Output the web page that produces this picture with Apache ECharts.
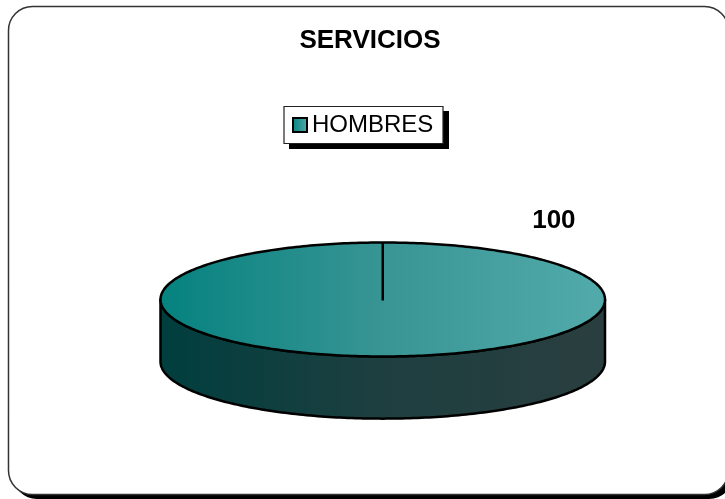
<!DOCTYPE html>
<html>
<head>
<meta charset="utf-8">
<style>
html, body { margin: 0; padding: 0; background: #fff; }
#main { width: 725px; height: 499px; }
</style>
<script src="https://cdn.jsdelivr.net/npm/echarts@6/dist/echarts.min.js"></script>
</head>
<body>
<div id="main"></div>
<script>
var titleText = 'SERVICIOS';
var categories = ['HOMBRES'];
var values = [100];

var font = '"Liberation Sans", Arial, sans-serif';
var depth = 1.09; // pie wall height, in units of the vertical radius

var topFill = {
    type: 'linear', x: 0, y: 0, x2: 1, y2: 0,
    colorStops: [
        { offset: 0, color: '#05827F' },
        { offset: 0.5, color: '#389594' },
        { offset: 1, color: '#52ABAA' }
    ]
};
var sideFill = {
    type: 'linear', x: 0, y: 0, x2: 1, y2: 0,
    colorStops: [
        { offset: 0, color: '#003E3E' },
        { offset: 0.5, color: '#1E3F40' },
        { offset: 1, color: '#2A3E3F' }
    ]
};

function renderPie(params, api) {
    var total = values.reduce(function (a, b) { return a + b; }, 0);
    var sweep = api.value(1) / total * Math.PI * 2;
    var c = api.coord([0, 0]);
    var edge = api.coord([1, 1]);
    var rx = edge[0] - c[0];
    var ry = c[1] - edge[1];
    var wall = ry * depth;
    var i, a;

    var topPts = [];
    for (i = 0; i <= 360; i++) {
        a = sweep * i / 360;
        topPts.push([c[0] + rx * Math.sin(a), c[1] - ry * Math.cos(a)]);
    }
    var sidePts = [];
    for (i = 0; i <= 180; i++) {
        a = Math.PI * i / 180;
        sidePts.push([c[0] + rx * Math.cos(a), c[1] + ry * Math.sin(a)]);
    }
    for (i = 180; i >= 0; i--) {
        a = Math.PI * i / 180;
        sidePts.push([c[0] + rx * Math.cos(a), c[1] + wall + ry * Math.sin(a)]);
    }
    var stroke = { stroke: '#000', lineWidth: 2.5, lineJoin: 'round' };

    return {
        type: 'group',
        children: [
            { type: 'polygon', shape: { points: sidePts }, style: Object.assign({ fill: sideFill }, stroke) },
            { type: 'polygon', shape: { points: topPts }, style: Object.assign({ fill: topFill }, stroke) },
            { type: 'line', shape: { x1: c[0], y1: c[1] - ry, x2: c[0], y2: c[1] + 1 }, style: stroke },
            {
                type: 'text',
                x: c[0] + rx * 0.77,
                y: c[1] - ry * 1.38,
                style: {
                    text: String(api.value(1)),
                    font: 'bold 26px ' + font,
                    fill: '#000',
                    align: 'center',
                    verticalAlign: 'middle'
                }
            }
        ]
    };
}

var chart = echarts.init(document.getElementById('main'), null, { renderer: 'canvas' });
chart.setOption({
    animation: false,
    backgroundColor: '#fff',
    title: {
        text: titleText,
        left: 370,
        top: 28,
        textAlign: 'center',
        padding: 0,
        textStyle: { fontFamily: font, fontSize: 26, fontWeight: 'bold', color: '#000' }
    },
    legend: {
        data: [{
            name: categories[0],
            icon: 'rect',
            itemStyle: {
                color: { type: 'linear', x: 0, y: 0, x2: 1, y2: 0, colorStops: [{ offset: 0, color: '#05827F' }, { offset: 1, color: '#52ABAA' }] },
                borderColor: '#000',
                borderWidth: 2
            }
        }],
        left: 292,
        top: 113,
        itemWidth: 14,
        itemHeight: 14,
        itemGap: 0,
        padding: 0,
        selectedMode: false,
        textStyle: { fontFamily: font, fontSize: 24, color: '#000' }
    },
    graphic: [
        // chart frame and its hard shadow
        { type: 'rect', z: -10, silent: true, shape: { x: 13, y: 11, width: 720, height: 488, r: 24 }, style: { fill: '#000' } },
        { type: 'rect', z: -9, silent: true, shape: { x: 8.5, y: 6.5, width: 720, height: 488, r: 24 }, style: { fill: '#fff', stroke: '#333', lineWidth: 1.5 } },
        // legend box and its hard shadow
        { type: 'rect', z: -8, silent: true, shape: { x: 289, y: 111, width: 160, height: 38 }, style: { fill: '#000' } },
        { type: 'rect', z: -7, silent: true, shape: { x: 284, y: 106.5, width: 159, height: 37 }, style: { fill: '#fff', stroke: '#222', lineWidth: 1.2 } }
    ],
    grid: { left: 160.5, right: 120, top: 242.5, height: 114, containLabel: false },
    xAxis: { type: 'value', min: -1, max: 1, show: false },
    yAxis: { type: 'value', min: -1, max: 1, show: false },
    series: [{
        type: 'custom',
        name: categories[0],
        coordinateSystem: 'cartesian2d',
        clip: false,
        renderItem: renderPie,
        encode: { x: 0, y: 1 },
        data: values.map(function (v) { return [0, v]; })
    }]
});
</script>
</body>
</html>
